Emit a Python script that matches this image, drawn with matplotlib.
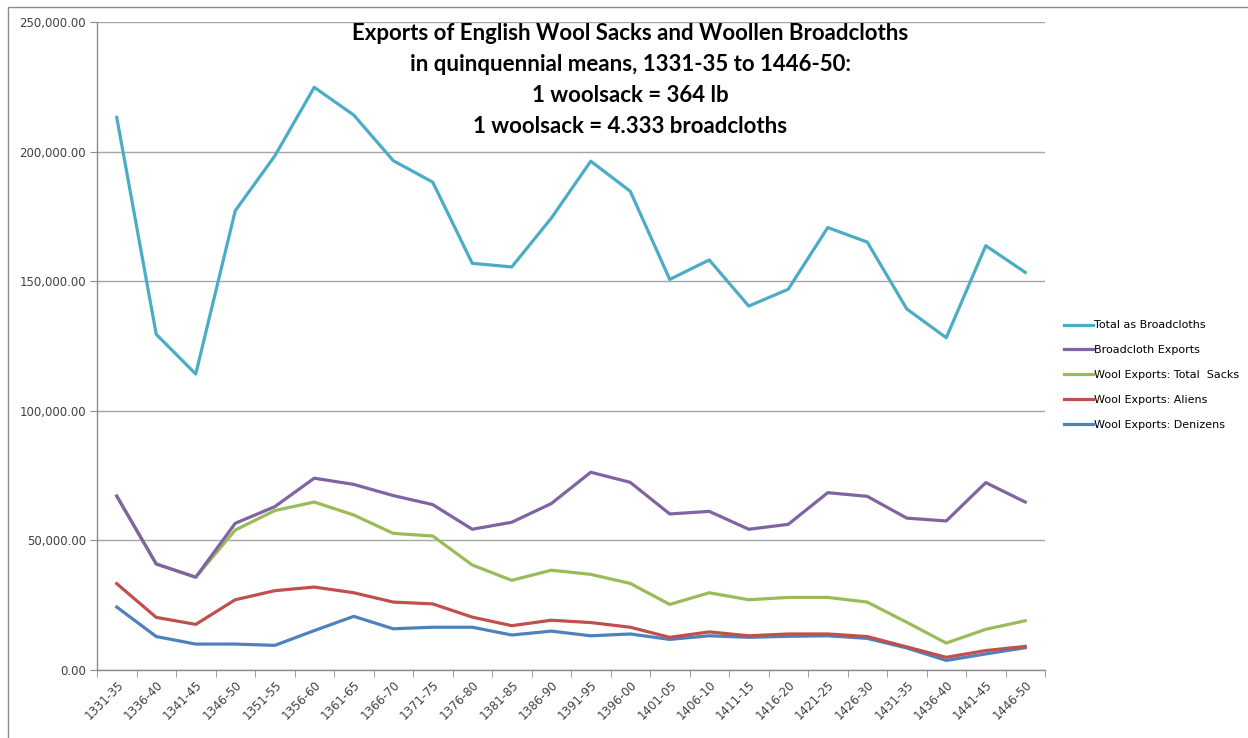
import matplotlib
matplotlib.use("Agg")
import matplotlib.pyplot as plt
from matplotlib.ticker import FuncFormatter, FixedLocator
from matplotlib.patches import Rectangle

categories = ["1331-35", "1336-40", "1341-45", "1346-50", "1351-55", "1356-60", "1361-65",
              "1366-70", "1371-75", "1376-80", "1381-85", "1386-90", "1391-95", "1396-00",
              "1401-05", "1406-10", "1411-15", "1416-20", "1421-25", "1426-30", "1431-35",
              "1436-40", "1441-45", "1446-50"]

total_broadcloths = [213.2, 129.5, 114.2, 177.2, 198.3, 224.8, 214.1, 196.5, 188.2, 156.9,
                     155.5, 174.3, 196.3, 184.7, 150.7, 158.2, 140.4, 146.9, 170.7, 165.1,
                     139.3, 128.2, 163.7, 153.4]
broadcloth_exports = [67.1, 40.9, 35.8, 56.6, 63.0, 74.0, 71.6, 67.3, 63.8, 54.3,
                      57.0, 64.2, 76.3, 72.4, 60.2, 61.2, 54.3, 56.2, 68.4, 67.0,
                      58.6, 57.5, 72.3, 64.8]
wool_total = [67.1, 40.9, 35.8, 54.0, 61.5, 64.8, 59.8, 52.7, 51.7, 40.5,
              34.6, 38.5, 36.9, 33.4, 25.3, 29.8, 27.1, 28.0, 28.0, 26.2,
              18.4, 10.4, 15.7, 19.0]
wool_aliens = [33.3, 20.3, 17.6, 27.1, 30.6, 32.0, 29.8, 26.2, 25.5, 20.4,
               17.1, 19.2, 18.3, 16.5, 12.6, 14.7, 13.2, 13.9, 13.9, 12.9,
               8.9, 4.9, 7.5, 9.1]
wool_denizens = [24.3, 12.9, 10.0, 10.0, 9.5, 15.2, 20.7, 15.9, 16.5, 16.5,
                 13.5, 15.0, 13.2, 13.9, 11.8, 13.2, 12.6, 13.0, 13.2, 12.2,
                 8.5, 3.7, 6.2, 8.6]

series = [
    ("Total as Broadcloths", total_broadcloths, "#4BACC6", 5),
    ("Broadcloth Exports", broadcloth_exports, "#8064A2", 4),
    ("Wool Exports: Total  Sacks", wool_total, "#9BBB59", 3),
    ("Wool Exports: Aliens", wool_aliens, "#C0504D", 2),
    ("Wool Exports: Denizens", wool_denizens, "#4F81BD", 1),
]

fig = plt.figure(figsize=(12.48, 7.38), dpi=100)
fig.patches.append(Rectangle((8 / 1248, -0.1), 1.2, 1 - 7 / 738 + 0.1, transform=fig.transFigure,
                             fill=False, edgecolor="#8C8C8C", linewidth=1.0))
ax = fig.add_axes([97 / 1248, 1 - 670 / 738, (1045 - 97) / 1248, (670 - 22) / 738])

x = list(range(len(categories)))
handles = []
for name, vals, color, z in series:
    (h,) = ax.plot(x, [v * 1000 for v in vals], color=color, linewidth=2.3, label=name,
                   zorder=z, solid_joinstyle="round")
    handles.append(h)

ax.set_xlim(-0.5, len(categories) - 0.5)
ax.set_ylim(0, 250000)
ax.set_yticks([0, 50000, 100000, 150000, 200000, 250000])
ax.yaxis.set_major_formatter(FuncFormatter(lambda v, p: f"{v:,.2f}"))
ax.grid(axis="y", color="#A6A6A6", linewidth=1.0, zorder=0)
ax.set_axisbelow(True)

ax.set_xticks(x)
ax.set_xticklabels(categories, rotation=45, ha="right", rotation_mode="anchor",
                   fontsize=8.5, color="#404040")
ax.tick_params(axis="x", length=0, pad=6)
ax.xaxis.set_minor_locator(FixedLocator([i - 0.5 for i in range(len(categories) + 1)]))
ax.tick_params(axis="x", which="minor", length=5, color="#8C8C8C", direction="out")
ax.tick_params(axis="y", length=5, color="#8C8C8C", labelsize=8.5, labelcolor="#404040", pad=3)

for s in ["top", "right"]:
    ax.spines[s].set_visible(False)
for s in ["left", "bottom"]:
    ax.spines[s].set_color("#8C8C8C")
    ax.spines[s].set_linewidth(1.0)

title = ("Exports of English Wool Sacks and Woollen Broadcloths\n"
         "in quinquennial means, 1331-35 to 1446-50:\n"
         "1 woolsack = 364 lb\n"
         "1 woolsack = 4.333 broadcloths")
fig.text(630 / 1248, 1 - 23 / 738, title, ha="center", va="top", fontsize=16,
         fontweight="bold", family=["Lato", "DejaVu Sans"], linespacing=1.58, color="#000000")

fig.legend(handles=handles, loc="upper left", bbox_to_anchor=(1060 / 1248, 1 - 316 / 738),
           frameon=False, fontsize=8, handlelength=2.6, handletextpad=0.1,
           labelspacing=1.33, borderaxespad=0)

fig.savefig("out.png", dpi=100)
